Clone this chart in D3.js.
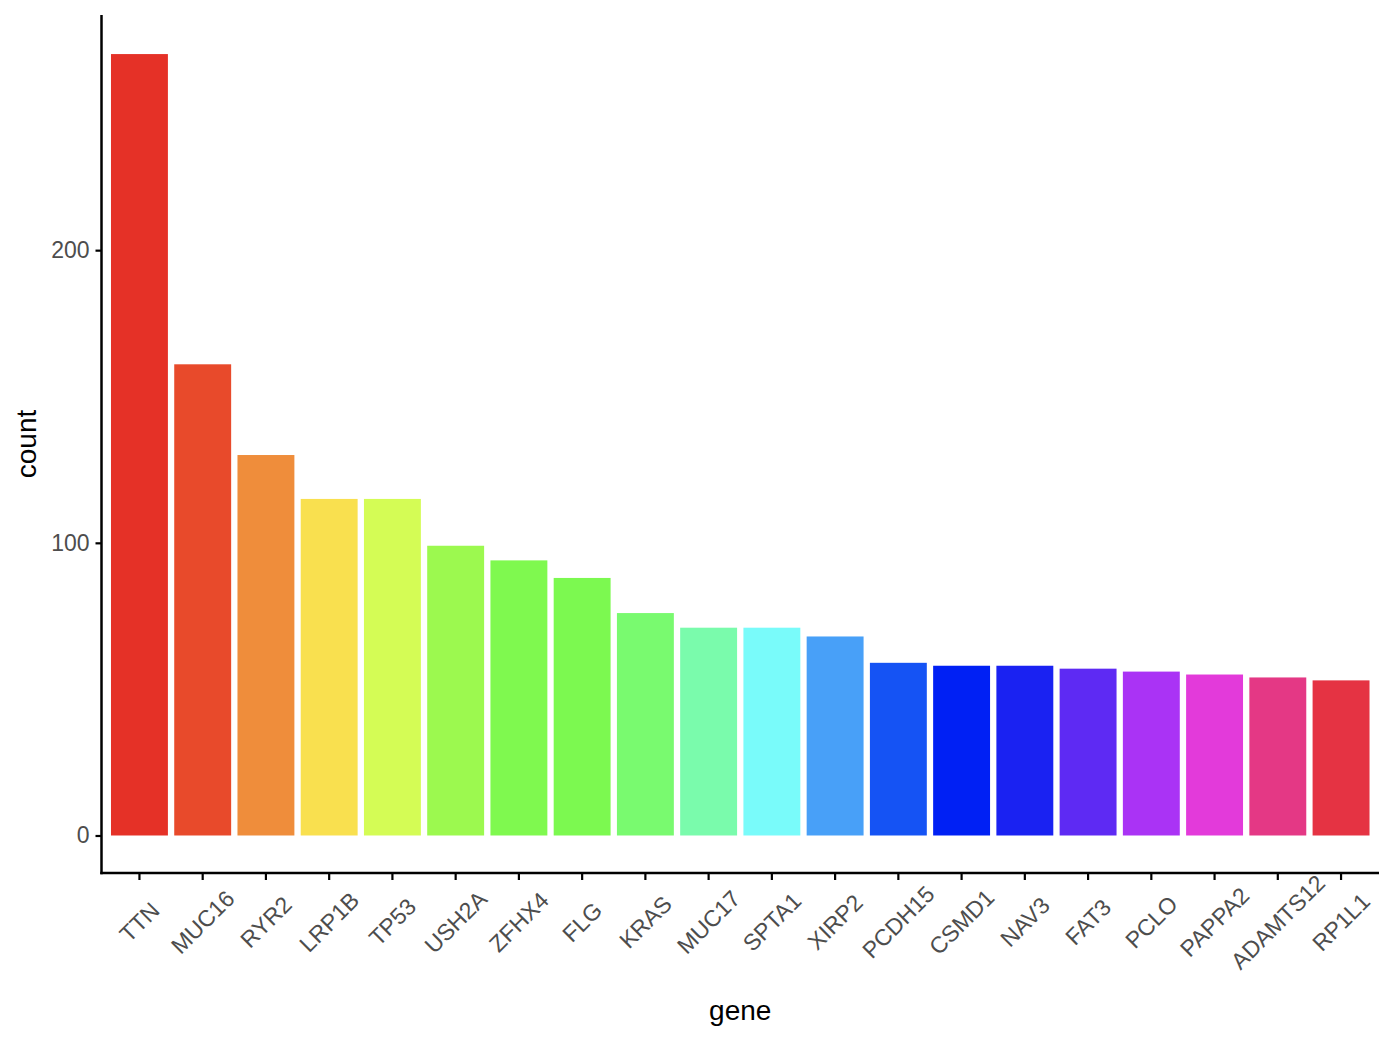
<!DOCTYPE html>
<html>
<head>
<meta charset="utf-8">
<script src="https://cdn.jsdelivr.net/npm/d3@7"></script>
<style>
  html, body { margin: 0; padding: 0; background: #ffffff; }
  svg { display: block; }
  text { font-family: "Liberation Sans", Arial, Helvetica, sans-serif; }
</style>
</head>
<body>
<svg id="chart" width="1394" height="1040"></svg>
<script>
const genes = ["TTN","MUC16","RYR2","LRP1B","TP53","USH2A","ZFHX4","FLG","KRAS","MUC17",
               "SPTA1","XIRP2","PCDH15","CSMD1","NAV3","FAT3","PCLO","PAPPA2","ADAMTS12","RP1L1"];
const counts = [267,161,130,115,115,99,94,88,76,71,71,68,59,58,58,57,56,55,54,53];
const barColors = ["#E53127","#E84A2B","#EF8D3B","#F9E04F","#D4FC55","#9CF94F","#7FF94F","#7CF950",
                   "#79FA6F","#7AFBAC","#79FBFA","#48A0F8","#1553F4","#0020F4","#1A22F2","#5E2AF3",
                   "#AA33F5","#E33ADA","#E43885","#E53343"];
const yTicks = [0, 100, 200];
const xTitle = "gene";
const yTitle = "count";

const panel = { left: 101.5, right: 1379, top: 15, bottom: 873 };
const svg = d3.select("#chart");
svg.append("rect").attr("width", 1394).attr("height", 1040).attr("fill", "#ffffff");

const maxV = d3.max(counts);
const x = d3.scaleBand().domain(genes).range([panel.left, panel.right])
  .paddingInner(0.1).paddingOuter(0.15);
const y = d3.scaleLinear().domain([-0.048 * maxV, maxV * 1.05]).range([panel.bottom, panel.top]);

// bars
svg.append("g").selectAll("rect").data(genes).join("rect")
  .attr("x", d => x(d))
  .attr("width", x.bandwidth())
  .attr("y", (d, i) => y(counts[i]))
  .attr("height", (d, i) => y(0) - y(counts[i]))
  .attr("fill", (d, i) => barColors[i]);

// y axis
const yAxis = d3.axisLeft(y).tickValues(yTicks).tickSize(6).tickPadding(6).tickFormat(d3.format("d"));
const gy = svg.append("g").attr("transform", `translate(${panel.left},0)`).call(yAxis);
gy.select(".domain").remove();
gy.selectAll(".tick line").attr("stroke", "#000").attr("stroke-width", 2.2);
gy.selectAll(".tick text").attr("fill", "#4D4D4D").style("font-size", "23px");
svg.append("line").attr("x1", panel.left).attr("x2", panel.left)
  .attr("y1", panel.top).attr("y2", panel.bottom + 1.2)
  .attr("stroke", "#000").attr("stroke-width", 2.5);

// x axis
const xAxis = d3.axisBottom(x).tickSize(7).tickFormat("");
const gx = svg.append("g").attr("transform", `translate(0,${panel.bottom})`).call(xAxis);
gx.select(".domain").remove();
gx.selectAll(".tick line").attr("stroke", "#000").attr("stroke-width", 2.2);
svg.append("line").attr("x1", panel.left - 1.2).attr("x2", panel.right)
  .attr("y1", panel.bottom).attr("y2", panel.bottom)
  .attr("stroke", "#000").attr("stroke-width", 2.5);

// rotated x labels, centred under each tick
svg.append("g").selectAll("text").data(genes).join("text")
  .attr("transform", d => `translate(${x(d) + x.bandwidth() / 2},922) rotate(-45)`)
  .attr("text-anchor", "middle")
  .attr("dy", "0.35em")
  .attr("fill", "#4D4D4D")
  .style("font-size", "23px")
  .text(d => d);

// titles
svg.append("text").attr("x", (panel.left + panel.right) / 2).attr("y", 1020)
  .attr("text-anchor", "middle").attr("fill", "#000").style("font-size", "28px").text(xTitle);
svg.append("text").attr("transform", `translate(36,${(panel.top + panel.bottom) / 2}) rotate(-90)`)
  .attr("text-anchor", "middle").attr("fill", "#000").style("font-size", "28px").text(yTitle);
</script>
</body>
</html>
